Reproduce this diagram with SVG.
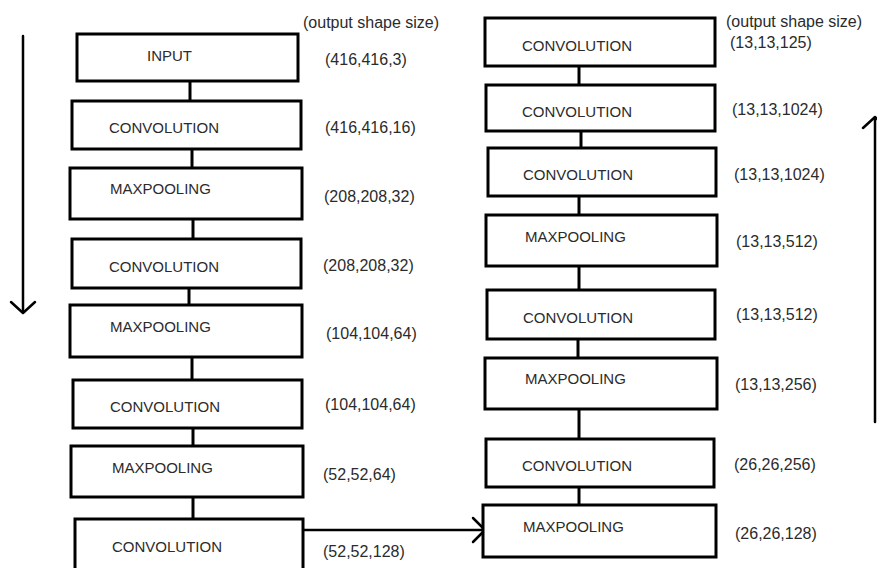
<svg xmlns="http://www.w3.org/2000/svg" width="877" height="568" viewBox="0 0 877 568">
<style>
.box{fill:#fff;stroke:#000;stroke-width:3}
.t{font-family:"Liberation Sans",Arial,sans-serif;font-size:15px;fill:#2b2b2b}
.l{font-family:"Liberation Sans",Arial,sans-serif;font-size:16px;fill:#2b2b2b}
.c{stroke:#000;stroke-width:3;fill:none}
.a{stroke:#000;stroke-width:2.5;fill:none;stroke-linecap:round;stroke-linejoin:round}
</style>
<rect width="877" height="568" fill="#fff"/>
<g id="connectors">
<line class="c" x1="190" y1="81" x2="190" y2="101"/>
<line class="c" x1="192" y1="149" x2="192" y2="168"/>
<line class="c" x1="193" y1="219" x2="193" y2="239"/>
<line class="c" x1="189" y1="288" x2="189" y2="305"/>
<line class="c" x1="192" y1="357" x2="192" y2="380"/>
<line class="c" x1="193" y1="428" x2="193" y2="446"/>
<line class="c" x1="193" y1="497" x2="193" y2="519"/>
<line class="c" x1="579" y1="66" x2="579" y2="85"/>
<line class="c" x1="581" y1="131" x2="581" y2="148"/>
<line class="c" x1="579" y1="196" x2="579" y2="215"/>
<line class="c" x1="579" y1="266" x2="579" y2="290"/>
<line class="c" x1="578" y1="339" x2="578" y2="358"/>
<line class="c" x1="579" y1="409" x2="579" y2="439"/>
<line class="c" x1="579" y1="487" x2="579" y2="505"/>
<line class="a" x1="303" y1="530" x2="484" y2="530"/>
<polyline class="a" points="473,518 485,530 473,542"/>
<line class="a" x1="23" y1="36" x2="23" y2="312"/>
<polyline class="a" points="11,302 23,313 35,302"/>
<line class="a" x1="875" y1="118" x2="875" y2="422"/>
<polyline class="a" points="863,128 875,117 887,128"/>
</g>
<text class="l" x="303" y="28">(output shape size)</text>
<text class="l" x="726" y="27">(output shape size)</text>
<g id="L1"><rect class="box" x="77" y="34" width="221" height="47"/><text class="t" x="147" y="61">INPUT</text><text class="l" x="325" y="65">(416,416,3)</text></g>
<g id="L2"><rect class="box" x="72" y="101" width="229" height="48"/><text class="t" x="109" y="133">CONVOLUTION</text><text class="l" x="325" y="133">(416,416,16)</text></g>
<g id="L3"><rect class="box" x="70" y="168" width="232" height="51"/><text class="t" x="110" y="194">MAXPOOLING</text><text class="l" x="324" y="202">(208,208,32)</text></g>
<g id="L4"><rect class="box" x="72" y="239" width="229" height="49"/><text class="t" x="109" y="272">CONVOLUTION</text><text class="l" x="323" y="271">(208,208,32)</text></g>
<g id="L5"><rect class="box" x="70" y="305" width="232" height="52"/><text class="t" x="110" y="332">MAXPOOLING</text><text class="l" x="326" y="339">(104,104,64)</text></g>
<g id="L6"><rect class="box" x="73" y="380" width="229" height="48"/><text class="t" x="110" y="412">CONVOLUTION</text><text class="l" x="325" y="410">(104,104,64)</text></g>
<g id="L7"><rect class="box" x="71" y="446" width="232" height="51"/><text class="t" x="112" y="473">MAXPOOLING</text><text class="l" x="323" y="480">(52,52,64)</text></g>
<g id="L8"><rect class="box" x="75" y="519" width="228" height="54"/><text class="t" x="112" y="552">CONVOLUTION</text><text class="l" x="323" y="557">(52,52,128)</text></g>
<g id="R1"><rect class="box" x="485" y="18" width="230" height="48"/><text class="t" x="522" y="51">CONVOLUTION</text><text class="l" x="730" y="48">(13,13,125)</text></g>
<g id="R2"><rect class="box" x="486" y="85" width="229" height="46"/><text class="t" x="522" y="117">CONVOLUTION</text><text class="l" x="732" y="115">(13,13,1024)</text></g>
<g id="R3"><rect class="box" x="488" y="148" width="228" height="48"/><text class="t" x="523" y="180">CONVOLUTION</text><text class="l" x="734" y="180">(13,13,1024)</text></g>
<g id="R4"><rect class="box" x="486" y="215" width="231" height="51"/><text class="t" x="525" y="242">MAXPOOLING</text><text class="l" x="736" y="247">(13,13,512)</text></g>
<g id="R5"><rect class="box" x="487" y="290" width="228" height="49"/><text class="t" x="523" y="323">CONVOLUTION</text><text class="l" x="736" y="320">(13,13,512)</text></g>
<g id="R6"><rect class="box" x="485" y="358" width="232" height="51"/><text class="t" x="525" y="384">MAXPOOLING</text><text class="l" x="735" y="390">(13,13,256)</text></g>
<g id="R7"><rect class="box" x="486" y="439" width="228" height="48"/><text class="t" x="522" y="471">CONVOLUTION</text><text class="l" x="734" y="470">(26,26,256)</text></g>
<g id="R8"><rect class="box" x="483" y="505" width="233" height="52"/><text class="t" x="523" y="532">MAXPOOLING</text><text class="l" x="735" y="539">(26,26,128)</text></g>
</svg>
